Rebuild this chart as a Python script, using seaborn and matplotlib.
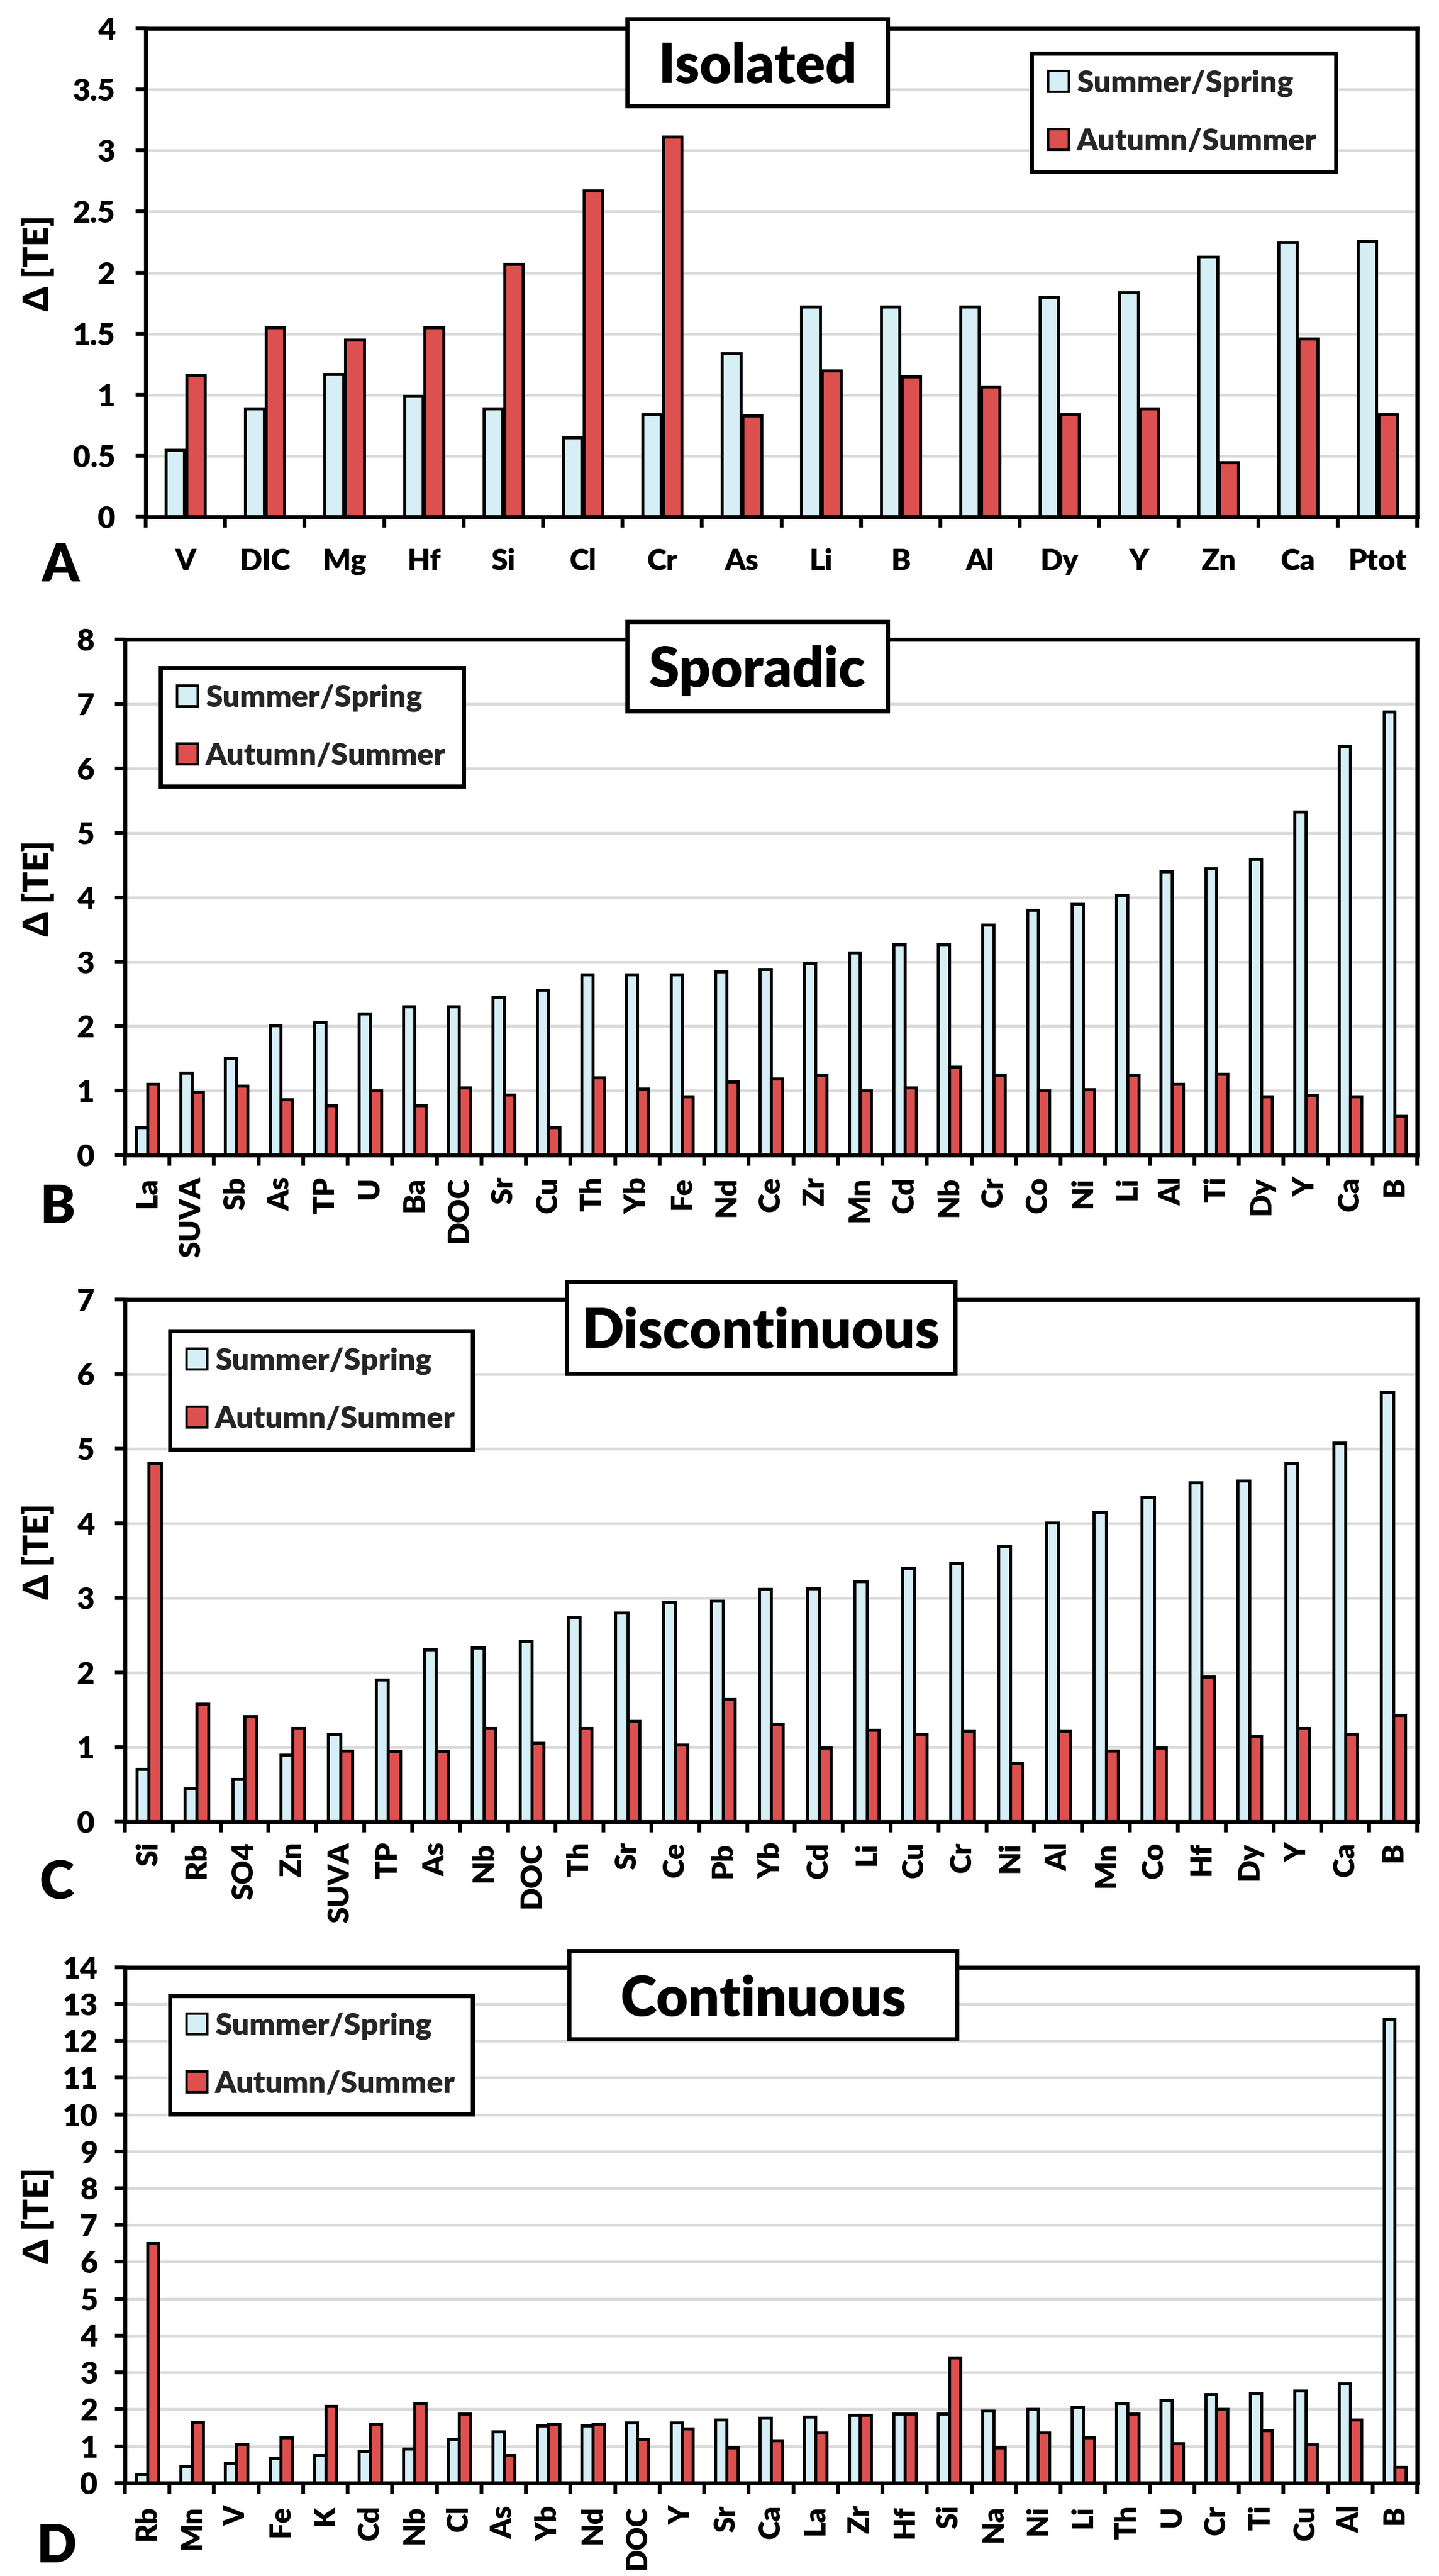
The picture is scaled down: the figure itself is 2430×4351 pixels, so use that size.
import numpy as np
import pandas as pd
import matplotlib
matplotlib.use('Agg')
import matplotlib.pyplot as plt
import seaborn as sns
from matplotlib.patches import Rectangle, Patch
from matplotlib.ticker import MultipleLocator, FuncFormatter

# ---------------- data ----------------
series_names = ['Summer/Spring', 'Autumn/Summer']
series_colors = ['#d6eef5', '#dd5050']

a_cats = ['V', 'DIC', 'Mg', 'Hf', 'Si', 'Cl', 'Cr', 'As', 'Li', 'B', 'Al', 'Dy', 'Y', 'Zn', 'Ca', 'Ptot']
a_ss = [0.55, 0.89, 1.17, 0.99, 0.89, 0.65, 0.84, 1.34, 1.72, 1.72, 1.72, 1.80, 1.84, 2.13, 2.25, 2.26]
a_as = [1.16, 1.55, 1.45, 1.55, 2.07, 2.67, 3.11, 0.83, 1.20, 1.15, 1.07, 0.84, 0.89, 0.45, 1.46, 0.84]

b_cats = ['La', 'SUVA', 'Sb', 'As', 'TP', 'U', 'Ba', 'DOC', 'Sr', 'Cu', 'Th', 'Yb', 'Fe', 'Nd', 'Ce',
          'Zr', 'Mn', 'Cd', 'Nb', 'Cr', 'Co', 'Ni', 'Li', 'Al', 'Ti', 'Dy', 'Y', 'Ca', 'B']
b_ss = [0.43, 1.28, 1.51, 2.01, 2.06, 2.20, 2.31, 2.31, 2.45, 2.56, 2.80, 2.80, 2.80, 2.85, 2.89,
        2.98, 3.14, 3.27, 3.27, 3.57, 3.80, 3.90, 4.03, 4.40, 4.45, 4.59, 5.33, 6.35, 6.88]
b_as = [1.10, 0.98, 1.08, 0.87, 0.77, 1.00, 0.77, 1.05, 0.94, 0.43, 1.21, 1.03, 0.91, 1.14, 1.19,
        1.24, 1.00, 1.05, 1.37, 1.24, 1.00, 1.02, 1.24, 1.10, 1.26, 0.91, 0.93, 0.91, 0.61]

c_cats = ['Si', 'Rb', 'SO4', 'Zn', 'SUVA', 'TP', 'As', 'Nb', 'DOC', 'Th', 'Sr', 'Ce', 'Pb', 'Yb',
          'Cd', 'Li', 'Cu', 'Cr', 'Ni', 'Al', 'Mn', 'Co', 'Hf', 'Dy', 'Y', 'Ca', 'B']
c_ss = [0.70, 0.44, 0.57, 0.89, 1.17, 1.90, 2.31, 2.33, 2.42, 2.74, 2.80, 2.94, 2.96, 3.12,
        3.13, 3.22, 3.40, 3.47, 3.69, 4.01, 4.15, 4.35, 4.55, 4.57, 4.81, 5.08, 5.76]
c_as = [4.81, 1.58, 1.41, 1.25, 0.95, 0.94, 0.94, 1.25, 1.05, 1.25, 1.35, 1.03, 1.64, 1.31,
        0.99, 1.23, 1.17, 1.21, 0.78, 1.21, 0.95, 0.99, 1.94, 1.15, 1.25, 1.17, 1.43]

d_cats = ['Rb', 'Mn', 'V', 'Fe', 'K', 'Cd', 'Nb', 'Cl', 'As', 'Yb', 'Nd', 'DOC', 'Y', 'Sr', 'Ca',
          'La', 'Zr', 'Hf', 'Si', 'Na', 'Ni', 'Li', 'Th', 'U', 'Cr', 'Ti', 'Cu', 'Al', 'B']
d_ss = [0.24, 0.44, 0.55, 0.67, 0.76, 0.87, 0.93, 1.19, 1.39, 1.56, 1.55, 1.63, 1.63, 1.72, 1.76,
        1.80, 1.84, 1.88, 1.88, 1.96, 2.00, 2.05, 2.16, 2.25, 2.41, 2.44, 2.50, 2.70, 12.59]
d_as = [6.50, 1.65, 1.06, 1.23, 2.08, 1.60, 2.16, 1.88, 0.76, 1.60, 1.60, 1.19, 1.48, 0.96, 1.15,
        1.37, 1.84, 1.88, 3.41, 0.96, 1.37, 1.24, 1.88, 1.07, 2.00, 1.43, 1.04, 1.72, 0.43]

titles = ['Isolated', 'Sporadic', 'Discontinuous', 'Continuous']
letters = ['A', 'B', 'C', 'D']
y_max = [4, 8, 7, 14]
y_step = [0.5, 1, 1, 1]

# ---------------- style / layout ----------------
sns.set_theme(style='white')
plt.rcParams['font.family'] = ['Lato', 'DejaVu Sans']
WEIGHT = 'heavy'
plt.rcParams['font.weight'] = WEIGHT

W, H = 2430, 4351
fig = plt.figure(figsize=(W / 100, H / 100), dpi=100)


def fx(px):
    return px / W


def fy(py):
    return 1 - py / H


# axes boxes in pixels: left, top, right, bottom
ax_px = [(246, 47.7, 2393, 873.4), (211, 1080, 2393, 1951.3),
         (211, 2195.4, 2393, 3076.5), (211, 3322.6, 2393, 4193.8)]
title_px = [(1059, 31.6, 1499, 178.9), (1059, 1050, 1499, 1201),
            (957, 2165, 1613, 2320), (961, 3295, 1616, 3444)]
legend_px = [(1742, 90, 2256, 286), (271, 1128, 783, 1347),
             (287, 2248, 798, 2466), (287, 3371, 798, 3593)]
letter_px = [(70, 982), (68, 2066), (66, 3208), (62, 4328)]
rotations = [0, 90, 90, 90]
xpads = [38, 26, 25, 27]
ypads = [25, 25, 25, 21]
xlabel_sizes = [36, 36, 36, 35]
widths = [0.52, 0.5, 0.5, 0.5]
gaps = [0.1, 0.0, 0.0, 0.0]

panels = [(a_cats, a_ss, a_as), (b_cats, b_ss, b_as), (c_cats, c_ss, c_as), (d_cats, d_ss, d_as)]

for i, (cats, ss, aus) in enumerate(panels):
    l, t, r, b = ax_px[i]
    ax = fig.add_axes([fx(l), fy(b), (r - l) / W, (b - t) / H])
    n = len(cats)
    df = pd.DataFrame({
        'Element': list(cats) * 2,
        'Season': [series_names[0]] * n + [series_names[1]] * n,
        'Delta': list(ss) + list(aus),
    })
    sns.barplot(data=df, x='Element', y='Delta', hue='Season', order=cats,
                hue_order=series_names, palette=series_colors, saturation=1,
                edgecolor='black', linewidth=3.7, width=widths[i], gap=gaps[i],
                errorbar=None, ax=ax, legend=False, zorder=3)

    ax.set_xlim(-0.5, n - 0.5)
    ax.set_ylim(0, y_max[i])
    ax.yaxis.set_major_locator(MultipleLocator(y_step[i]))
    ax.yaxis.set_major_formatter(FuncFormatter(lambda v, p: f'{v:g}'))
    ax.yaxis.grid(True, color='#d9d9d9', linewidth=3.3)
    ax.xaxis.grid(False)
    ax.set_axisbelow(True)

    ax.set_xticks(range(n))
    ax.set_xticklabels(cats, rotation=rotations[i], fontsize=xlabel_sizes[i], fontweight=WEIGHT)
    if rotations[i] == 90:
        for lab in ax.get_xticklabels():
            lab.set_ha('center')
            lab.set_va('top')
    ax.set_xticks(np.arange(-0.5, n, 1.0), minor=True)
    ax.tick_params(axis='x', which='major', length=0, pad=xpads[i], colors='black')
    ax.tick_params(axis='x', which='minor', length=13, width=4.6, direction='out',
                   color='black', bottom=True)
    ax.tick_params(axis='y', which='major', length=12, width=4.6, direction='out',
                   pad=ypads[i], labelsize=37, colors='black', left=True)
    for lab in ax.get_yticklabels():
        lab.set_fontweight(WEIGHT)

    for s in ax.spines.values():
        s.set_visible(True)
        s.set_color('black')
        s.set_linewidth(4.8)
        s.set_zorder(4)

    ax.set_xlabel('')
    ax.set_ylabel('Δ [TE]', fontsize=42, fontweight=WEIGHT, color='black')
    lab_x = (64 - l) / (r - l)
    lab_y = 0.5 + 16 / (b - t)
    ax.yaxis.set_label_coords(lab_x, lab_y)
    ax.yaxis.label.set_ha('center')
    ax.yaxis.label.set_va('center')
    ax.yaxis.label.set_rotation_mode('default')

    # legend
    lx0, ly0, lx1, ly1 = legend_px[i]
    handles = [Patch(facecolor=c, edgecolor='black', linewidth=3.0) for c in series_colors]
    leg = ax.legend(handles, series_names, loc='upper left',
                    bbox_to_anchor=(fx(lx0), fy(ly0), (lx1 - lx0) / W, 0.0001),
                    bbox_transform=fig.transFigure, mode='expand', borderaxespad=0,
                    prop={'size': 37, 'weight': WEIGHT}, frameon=True, fancybox=False,
                    edgecolor='black', framealpha=1, handlelength=0.68, handleheight=0.68,
                    handletextpad=0.25, labelspacing=1.0, borderpad=0.55)
    leg.get_frame().set_linewidth(5)
    leg.set_zorder(10)

    # title box
    tx0, ty0, tx1, ty1 = title_px[i]
    rect = Rectangle((fx(tx0), fy(ty1)), (tx1 - tx0) / W, (ty1 - ty0) / H,
                     transform=fig.transFigure, facecolor='white', edgecolor='black',
                     linewidth=5, zorder=20)
    fig.add_artist(rect)
    fig.text(fx((tx0 + tx1) / 2), fy((ty0 + ty1) / 2 + 35), titles[i], ha='center',
             va='baseline', fontsize=67, fontweight=WEIGHT, color='black', zorder=21)

    # panel letter
    px, py = letter_px[i]
    fig.text(fx(px), fy(py), letters[i], ha='left', va='baseline', fontsize=64,
             fontweight=WEIGHT, color='black')

fig.savefig('out.png', dpi=100)
